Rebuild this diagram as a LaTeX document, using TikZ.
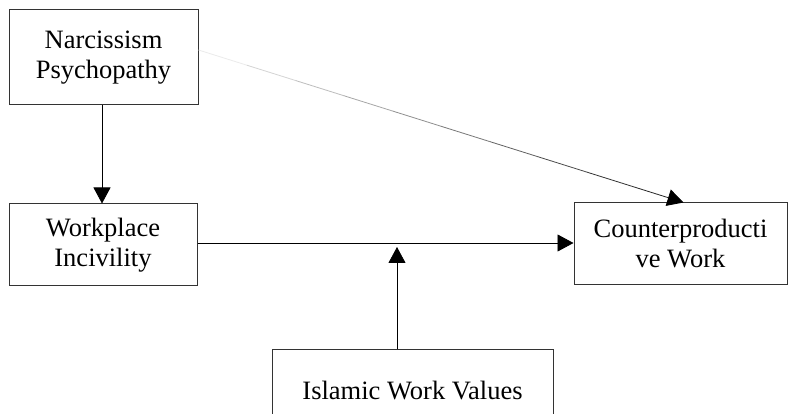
\documentclass[tikz,border=0pt]{standalone}
\usepackage{fontspec}
\setmainfont{Liberation Serif}
\usetikzlibrary{arrows.meta,calc}
\begin{document}
\begin{tikzpicture}[x=1pt,y=-1pt,
  box/.style={draw=black!80,line width=1pt,align=center,inner sep=0pt,
    font=\fontsize{26.5}{30}\selectfont},
  arr/.style={line width=0.8pt,-{Triangle[length=16pt,width=17pt]}}]
\useasboundingbox (0,0) rectangle (788,414);
\clip (0,0) rectangle (788,414);
\fill[white] (0,0) rectangle (788,414);
\node[box,minimum width=189pt,minimum height=95pt] (np) at (103.5,57.5) {Narcissism\\Psychopathy};
\node[box,minimum width=188pt,minimum height=82pt] (wi) at (103,245) {Workplace\\Incivility};
\node[box,minimum width=213pt,minimum height=82pt] (cw) at (680.5,244) {Counterproducti\\ve Work};
\node[box,minimum width=281pt,minimum height=84pt,text depth=0pt] (iw) at (412.5,392) {\raisebox{4pt}{Islamic Work Values}};
\coordinate (m) at (397,244);
\coordinate (ds) at (np.east |- 0,50);
\coordinate (de) at ($(cw.north)+(3,0)$);
\draw[arr] (np.south -| 102,0) -- (wi.north -| 102,0);
\foreach \i [evaluate=\i as \c using 8+\i*9] in {0,...,8}
  \draw[line width=0.8pt,black!\c] ($(ds)!\i/10!(de)$) -- ($(ds)!\i/10+0.1!(de)$);
\draw[line width=0.8pt,black!85,-{Triangle[length=16pt,width=17pt,color=black]}] ($(ds)!0.9!(de)$) -- (de);
\draw[arr] (wi.east |- 0,243) -- (cw.west |- 0,243);
\draw[arr] (iw.north -| m) -- ($(m)+(0,3)$);
\end{tikzpicture}
\end{document}
